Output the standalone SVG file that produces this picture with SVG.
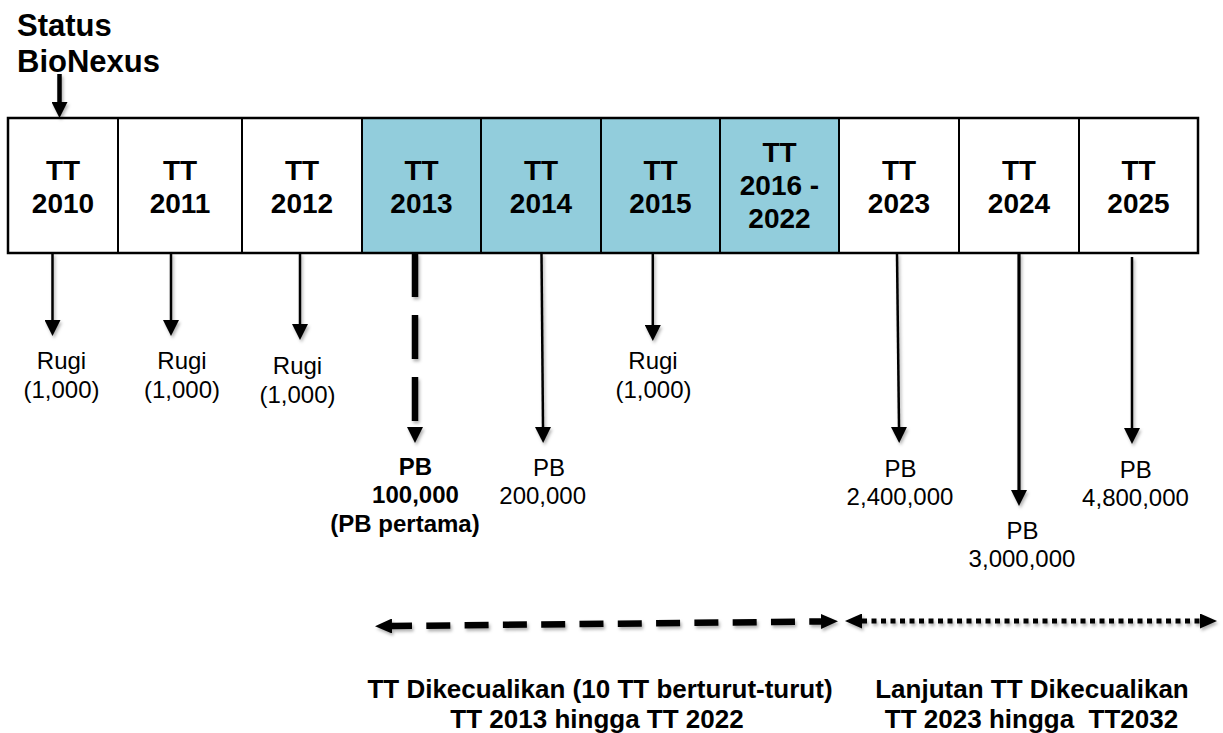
<svg xmlns="http://www.w3.org/2000/svg" width="1223" height="733" viewBox="0 0 1223 733">
<style>
.box{stroke:#000;stroke-width:2}
.w{fill:#fff}
.t{fill:#92CDDC}
.yr{font-family:"Liberation Sans",Arial,sans-serif;font-weight:bold;font-size:28px;text-anchor:middle;fill:#000}
.lbl{font-family:"Liberation Sans",Arial,sans-serif;font-size:24px;text-anchor:middle;fill:#000}
.lblb{font-family:"Liberation Sans",Arial,sans-serif;font-weight:bold;font-size:24px;text-anchor:middle;fill:#000}
.cap{font-family:"Liberation Sans",Arial,sans-serif;font-weight:bold;font-size:26px;text-anchor:middle;fill:#000}
.ttl{font-family:"Liberation Sans",Arial,sans-serif;font-weight:bold;font-size:31px;fill:#000}
.ln{stroke:#000;fill:none}
</style>
<defs>
<marker id="ah" markerUnits="userSpaceOnUse" markerWidth="16" markerHeight="16" refX="0" refY="8" orient="auto" viewBox="0 0 16 16"><path d="M0,0 L16,8 L0,16 z" fill="#000"/></marker>
<marker id="ahb" markerUnits="userSpaceOnUse" markerWidth="17" markerHeight="15" refX="0" refY="7.5" orient="auto-start-reverse" viewBox="0 0 17 15"><path d="M0,0 L17,7.5 L0,15 z" fill="#000"/></marker>
<filter id="sh" x="-20%" y="-50%" width="140%" height="200%"><feDropShadow dx="1.5" dy="2.5" stdDeviation="1.8" flood-color="#000" flood-opacity="0.3"/></filter>
</defs>
<rect width="1223" height="733" fill="#fff"/>

<g id="title">
<text class="ttl" x="17" y="36">Status</text>
<text class="ttl" x="17" y="72">BioNexus</text>
</g>

<g id="tt2010"><rect class="box w" x="8" y="118" width="110" height="135"/><text class="yr" x="63" y="180">TT</text><text class="yr" x="63" y="213">2010</text></g>
<g id="tt2011"><rect class="box w" x="118" y="118" width="124" height="135"/><text class="yr" x="180" y="180">TT</text><text class="yr" x="180" y="213">2011</text></g>
<g id="tt2012"><rect class="box w" x="242" y="118" width="120" height="135"/><text class="yr" x="302" y="180">TT</text><text class="yr" x="302" y="213">2012</text></g>
<g id="tt2013"><rect class="box t" x="362" y="118" width="119" height="135"/><text class="yr" x="421.5" y="180">TT</text><text class="yr" x="421.5" y="213">2013</text></g>
<g id="tt2014"><rect class="box t" x="481" y="118" width="120" height="135"/><text class="yr" x="541" y="180">TT</text><text class="yr" x="541" y="213">2014</text></g>
<g id="tt2015"><rect class="box t" x="601" y="118" width="119" height="135"/><text class="yr" x="660.5" y="180">TT</text><text class="yr" x="660.5" y="213">2015</text></g>
<g id="tt2016"><rect class="box t" x="720" y="118" width="119" height="135"/><text class="yr" x="779.5" y="162">TT</text><text class="yr" x="779.5" y="195">2016 -</text><text class="yr" x="779.5" y="228">2022</text></g>
<g id="tt2023"><rect class="box w" x="839" y="118" width="120" height="135"/><text class="yr" x="899" y="180">TT</text><text class="yr" x="899" y="213">2023</text></g>
<g id="tt2024"><rect class="box w" x="959" y="118" width="120" height="135"/><text class="yr" x="1019" y="180">TT</text><text class="yr" x="1019" y="213">2024</text></g>
<g id="tt2025"><rect class="box w" x="1079" y="118" width="119" height="135"/><text class="yr" x="1138.5" y="180">TT</text><text class="yr" x="1138.5" y="213">2025</text></g>
<rect x="8" y="118" width="1190" height="135" fill="none" stroke="#000" stroke-width="2.5"/>

<g id="connectors" filter="url(#sh)">
<line class="ln" x1="59.5" y1="74" x2="59.5" y2="102" stroke-width="4.5" marker-end="url(#ah)"/>
<line class="ln" x1="52.5" y1="253" x2="52.5" y2="320" stroke-width="2.5" marker-end="url(#ah)"/>
<line class="ln" x1="171" y1="253" x2="171" y2="320" stroke-width="2.5" marker-end="url(#ah)"/>
<line class="ln" x1="300" y1="253" x2="300" y2="324" stroke-width="2.5" marker-end="url(#ah)"/>
<line class="ln" x1="415" y1="253" x2="415" y2="427" stroke-width="6.5" stroke-dasharray="44 18" marker-end="url(#ah)"/>
<line class="ln" x1="541.5" y1="253" x2="543" y2="427" stroke-width="2.5" marker-end="url(#ah)"/>
<line class="ln" x1="652.8" y1="253" x2="652.8" y2="325" stroke-width="2.5" marker-end="url(#ah)"/>
<line class="ln" x1="897" y1="253" x2="899" y2="427" stroke-width="2.5" marker-end="url(#ah)"/>
<line class="ln" x1="1019" y1="253" x2="1019" y2="490" stroke-width="3.2" marker-end="url(#ah)"/>
<line class="ln" x1="1132" y1="257" x2="1132" y2="428" stroke-width="2.5" marker-end="url(#ah)"/>
<line class="ln" x1="392" y1="626" x2="821" y2="621.5" stroke-width="6.5" stroke-dasharray="24 14.3" stroke-dashoffset="4" marker-start="url(#ahb)" marker-end="url(#ahb)"/>
<line class="ln" x1="862" y1="621" x2="1200" y2="621" stroke-width="5" stroke-dasharray="5 4.5" marker-start="url(#ahb)" marker-end="url(#ahb)"/>
</g>

<g id="rugi2010"><text class="lbl" x="61.5" y="369">Rugi</text><text class="lbl" x="61.5" y="398">(1,000)</text></g>
<g id="rugi2011"><text class="lbl" x="182" y="369">Rugi</text><text class="lbl" x="182" y="398">(1,000)</text></g>
<g id="rugi2012"><text class="lbl" x="297.5" y="374">Rugi</text><text class="lbl" x="297.5" y="403">(1,000)</text></g>
<g id="pb2013"><text class="lblb" x="415.5" y="475">PB</text><text class="lblb" x="415.5" y="503">100,000</text><text class="lblb" x="405" y="531.5">(PB pertama)</text></g>
<g id="pb2014"><text class="lbl" x="549" y="476">PB</text><text class="lbl" x="542.7" y="503.5">200,000</text></g>
<g id="rugi2015"><text class="lbl" x="653" y="369">Rugi</text><text class="lbl" x="653.5" y="398">(1,000)</text></g>
<g id="pb2023"><text class="lbl" x="900.5" y="476.5">PB</text><text class="lbl" x="900" y="505">2,400,000</text></g>
<g id="pb2024"><text class="lbl" x="1022.5" y="539">PB</text><text class="lbl" x="1022" y="566.5">3,000,000</text></g>
<g id="pb2025"><text class="lbl" x="1135.7" y="478">PB</text><text class="lbl" x="1135.5" y="506">4,800,000</text></g>

<g id="exempt">
<text class="cap" x="600" y="698">TT Dikecualikan (10 TT berturut-turut)</text>
<text class="cap" x="597" y="728">TT 2013 hingga TT 2022</text>
</g>
<g id="continued">
<text class="cap" x="1032" y="698">Lanjutan TT Dikecualikan</text>
<text class="cap" x="1031.5" y="728" xml:space="preserve">TT 2023 hingga  TT2032</text>
</g>
</svg>
